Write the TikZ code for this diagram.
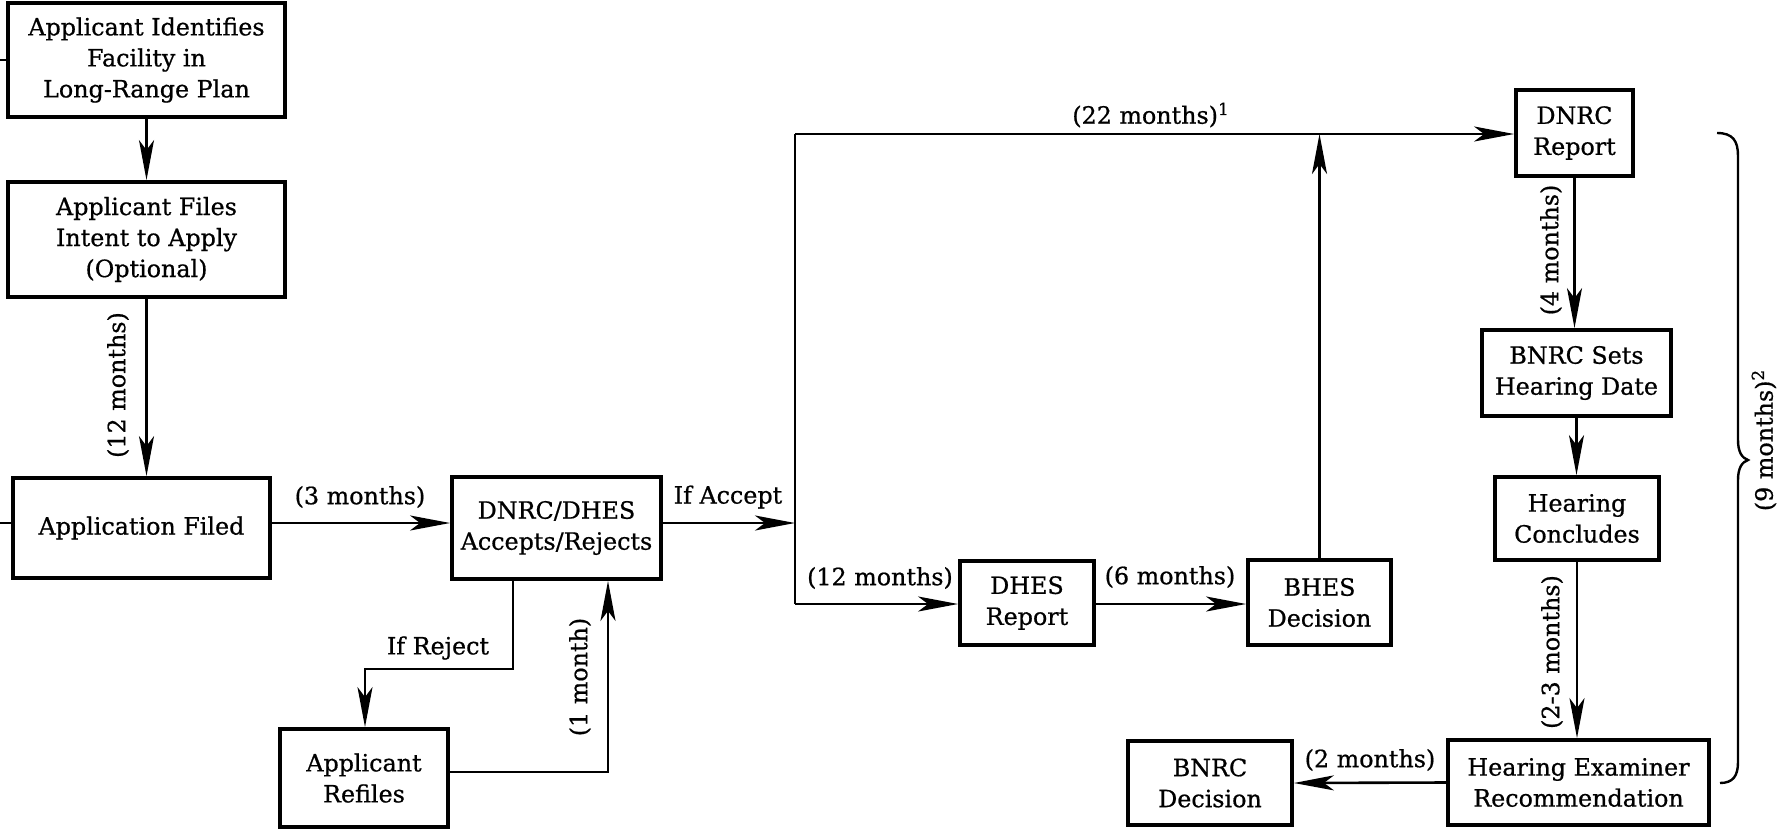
\documentclass[tikz,border=0pt]{standalone}
\usepackage{fontspec}
\setmainfont{DejaVu Serif}
\newfontfamily\medserif{DejaVu Serif}[FakeBold=0.7]
\usetikzlibrary{arrows.meta,calc}
\newcommand\lblfont{\medserif\fontsize{11.9}{15.5}\selectfont}
\begin{document}
\begin{tikzpicture}[x=0.5pt,y=-0.5pt,
  box/.style={draw, line width=1.9pt, align=center, inner sep=0pt, font=\lblfont},
  conn/.style={line width=1.3pt},
  arr/.style={conn, -{Stealth[length=20pt,width=7.5pt,inset=5pt]}},
  lab/.style={inner sep=0pt, font=\lblfont}]
\useasboundingbox[fill=white] (0,0) rectangle (1784,831);

% boxes
\node[box, minimum width=138.5pt, minimum height=57pt] (b1) at (146.5,60) {Applicant Identifies\\Facility in\\Long-Range Plan};
\node[box, minimum width=138.5pt, minimum height=57.5pt] (b2) at (146.5,239.5) {Applicant Files\\Intent to Apply\\(Optional)};
\node[box, minimum width=128.5pt, minimum height=50pt] (b3) at (141.5,528) {Application Filed};
\node[box, minimum width=104.5pt, minimum height=51pt] (b4) at (556.5,528) {DNRC/DHES\\Accepts/Rejects};
\node[box, minimum width=84pt, minimum height=49pt] (b5) at (364,778) {Applicant\\Refiles};
\node[box, minimum width=67pt, minimum height=42pt] (b6) at (1027,603) {DHES\\Report};
\node[box, minimum width=71.5pt, minimum height=42.5pt] (b7) at (1319.5,602.5) {BHES\\Decision};
\node[box, minimum width=58.5pt, minimum height=43pt] (b8) at (1574.5,133) {DNRC\\Report};
\node[box, minimum width=94.5pt, minimum height=43pt] (b9) at (1576.5,373) {BNRC Sets\\Hearing Date};
\node[box, minimum width=82pt, minimum height=41.5pt] (b10) at (1577,518.5) {Hearing\\Concludes};
\node[box, minimum width=130.5pt, minimum height=42.5pt] (b11) at (1578.5,782.5) {Hearing Examiner\\Recommendation};
\node[box, minimum width=82pt, minimum height=42pt] (b12) at (1210,783) {BNRC\\Decision};

% helper coordinates
\coordinate (s1) at (0,60);
\coordinate (s3) at (0,523);
\coordinate (ja) at (795,523);
\coordinate (jt) at (795,134);
\coordinate (jb) at (795,604);
\coordinate (r1) at (513,669);
\coordinate (r2) at (365,669);
\coordinate (q1) at (608,772);

% connectors
\draw[conn] (s1) -- (s1 -| b1.west);
\draw[conn] (s3) -- (s3 -| b3.west);
\draw[arr] (b1.south) -- (b2.north);
\draw[arr] (b2.south) -- (b2.south |- b3.north);
\draw[arr] (s3 -| b3.east) -- (s3 -| b4.west);
\draw[arr] (s3 -| b4.east) -- (ja);
\draw[conn] (jt) -- (jb);
\draw[arr] (jt) -- (jt -| b8.west);
\draw[arr] (jb) -- (jb -| b6.west);
\draw[arr] (b6.east |- jb) -- (b7.west |- jb);
\draw[arr] (b7.north) -- (b7.north |- jt);
\draw[arr] (b8.south) -- (b8.south |- b9.north);
\draw[arr] (b9.south) -- (b9.south |- b10.north);
\draw[arr] (b10.south) -- (b10.south |- b11.north);
\draw[arr] (b11.west) -- (b12.east);
\draw[arr] (b4.south -| r1) -- (r1) -- (r2) -- (r2 |- b5.north);
\draw[arr] (q1 -| b5.east) -- (q1) -- (q1 |- b4.south);

% labels
\node[lab, rotate=90] (l12) at (118,385) {(12 months)};
\node[lab] (l3) at (360,497) {(3 months)};
\node[lab] (lacc) at (728,497) {If Accept};
\node[lab] (lrej) at (438,648) {If Reject};
\node[lab, rotate=90] (l1m) at (580,677) {(1 month)};
\node[lab] (l22) at (1151,115) {(22 months)\textsuperscript{1}};
\node[lab] (l12b) at (880,578) {(12 months)};
\node[lab] (l6) at (1170,577) {(6 months)};
\node[lab, rotate=90] (l4) at (1551,250) {(4 months)};
\node[lab, rotate=90] (l23) at (1552,652) {(2-3 months)};
\node[lab] (l2) at (1370,760) {(2 months)};
\node[lab, rotate=90] (l9) at (1764,440) {(9 months)\textsuperscript{2}};

% brace
\draw[line width=1.2pt] (1717,133) .. controls (1733,133) and (1738,141) .. (1738,156)
  -- (1738,440) .. controls (1738,452) and (1742,458) .. (1748,460)
  .. controls (1742,462) and (1738,468) .. (1738,480)
  -- (1738,762) .. controls (1738,776) and (1733,783) .. (1720,783);
\end{tikzpicture}
\end{document}
